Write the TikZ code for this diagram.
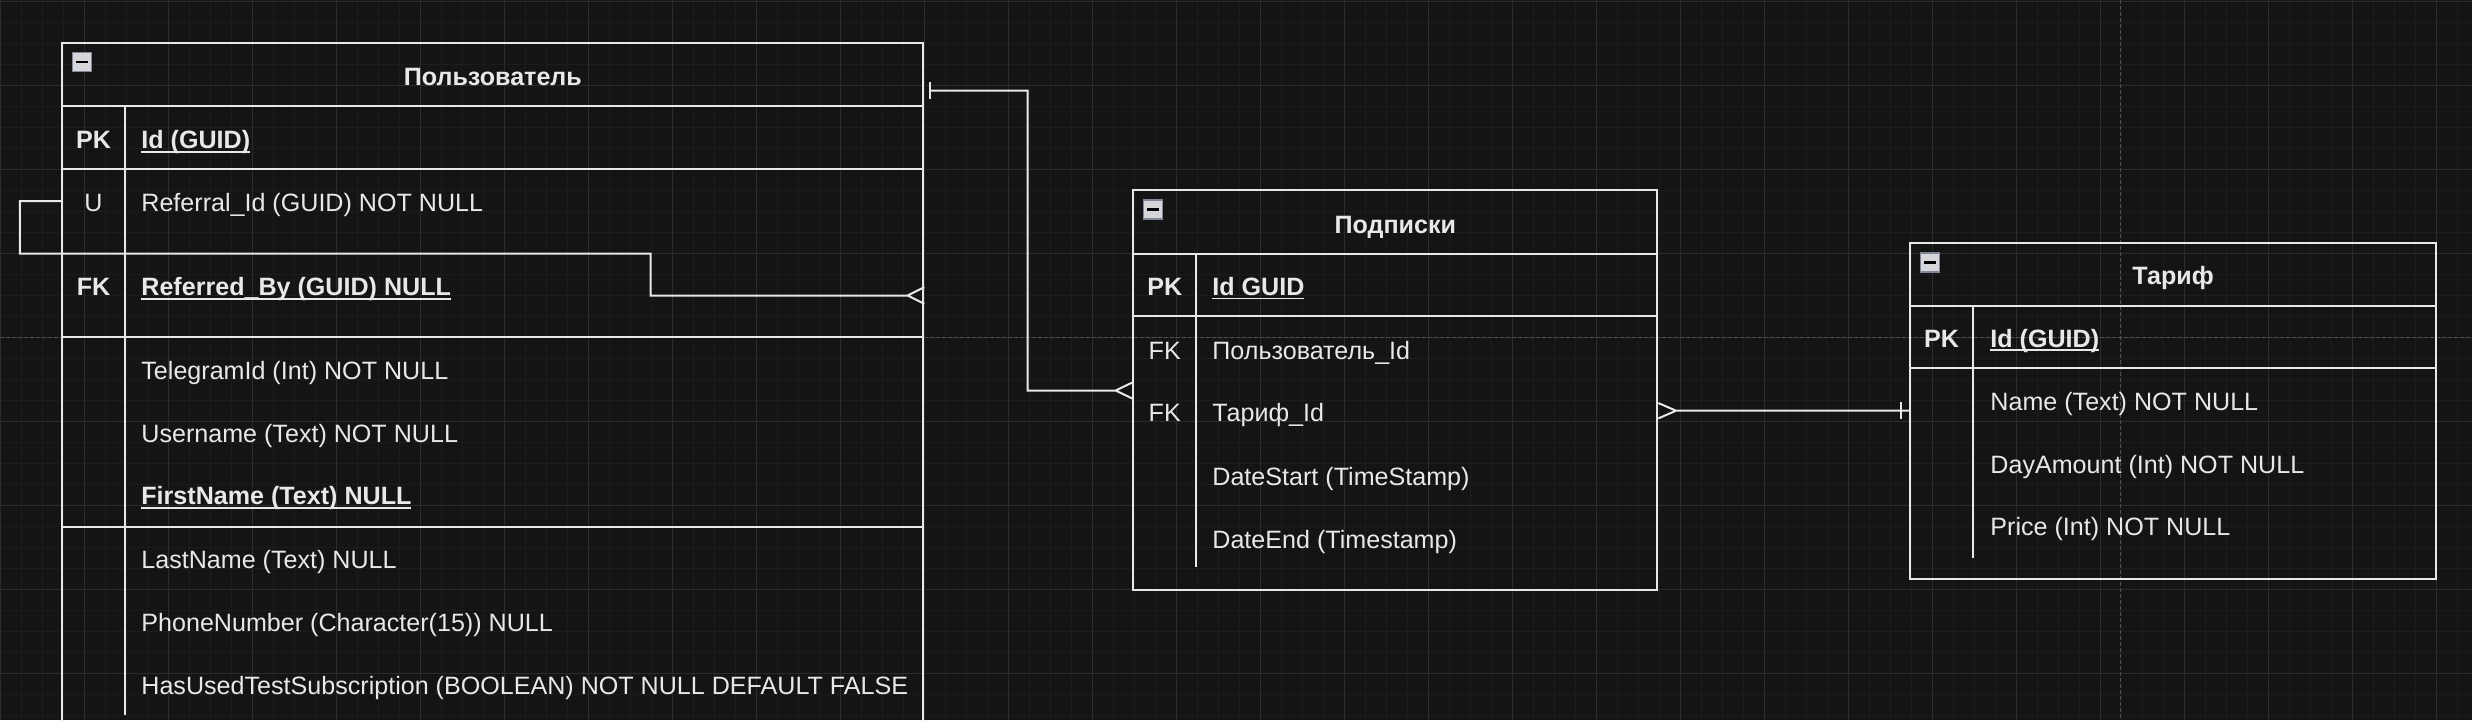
\documentclass[tikz,border=0pt]{standalone}
\usepackage{fontspec}
\setmainfont{Liberation Sans}
\usetikzlibrary{fit,calc}

\definecolor{canvas}{RGB}{20,20,20}
\definecolor{gridmajor}{RGB}{44,44,44}
\definecolor{gridminor}{RGB}{28,28,28}
\definecolor{ink}{RGB}{232,232,232}
\definecolor{pagebreak}{RGB}{78,78,78}
\definecolor{btnfill}{RGB}{214,214,218}
\definecolor{btnedge}{RGB}{125,135,150}

% underlined key field
\newcommand{\pkline}[1]{\setbox0\hbox{#1}\rlap{\rule[-1.9pt]{\wd0}{0.7pt}}\box0}

\tikzset{
  tablebox/.style={draw=ink, line width=1pt, inner sep=0pt},
  sepline/.style={draw=ink, line width=1pt},
  conn/.style={draw=ink, line width=1pt},
  tabtitle/.style={text=ink, font=\bfseries\fontsize{12.55}{15}\selectfont,
    inner sep=0pt, text height=9pt, text depth=0pt},
  field/.style={text=ink, font=\fontsize{12.55}{15}\selectfont, anchor=west,
    inner sep=0pt, text height=9pt, text depth=0pt},
  pkfield/.style={field, font=\bfseries\fontsize{12.55}{15}\selectfont},
  keycell/.style={field, anchor=center},
  pkcell/.style={pkfield, anchor=center},
  minbtn/.style={draw=btnedge, fill=btnfill, line width=0.6pt,
    minimum size=9.5pt, inner sep=0pt},
}

\begin{document}
\begin{tikzpicture}[x=0.5pt, y=-0.5pt]
  \useasboundingbox (0,0) rectangle (2472,720);
  \clip (0,0) rectangle (2472,720);

  % background and grid
  \fill[canvas] (0,0) rectangle (2472,720);
  \foreach \gx in {0,21,...,2480} \draw[gridminor, line width=0.5pt] (\gx,0) -- (\gx,720);
  \foreach \gy in {1.7,22.7,...,722} \draw[gridminor, line width=0.5pt] (0,\gy) -- (2472,\gy);
  \foreach \gx in {0,84,...,2480} \draw[gridmajor, line width=0.5pt] (\gx,0) -- (\gx,720);
  \foreach \gy in {1.7,85.7,...,722} \draw[gridmajor, line width=0.5pt] (0,\gy) -- (2472,\gy);
  \draw[pagebreak, line width=0.5pt, dash pattern=on 2pt off 1pt] (0,337.7) -- (2472,337.7);
  \draw[pagebreak, line width=0.5pt, dash pattern=on 2pt off 1pt] (2120.5,0) -- (2120.5,720);

  % table Пользователь
  \node[tablebox, fit={(62.3,43.3) (923.3,760)}] (user) {};
  \foreach \ry in {106,169.3,337.3,526.7}
    \draw[sepline] (user.west |- 0,\ry) -- (user.east |- 0,\ry);
  \draw[sepline] (124.7,106) -- (124.7,715);
  \node[minbtn] (user-min) at (81.7,62.2) {\textcolor{black}{\rule{6pt}{1.1pt}}};
  \node[tabtitle] (user-title) at (492.8,76.7) {Пользователь};
  \node[pkcell] (user-pk) at (93.5,139.7) {PK};
  \node[pkfield] (user-id) at (141,139.7) {\pkline{Id (GUID)}};
  \node[keycell] (user-u) at (93.5,202.3) {U};
  \node[field] (user-ref) at (141,202.3) {Referral\_Id (GUID) NOT NULL};
  \node[pkcell] (user-fk) at (93.5,286.7) {FK};
  \node[pkfield] (user-refby) at (141,286.7) {\pkline{Referred\_By (GUID) NULL}};
  \node[field] (user-tg) at (141,370.5) {TelegramId (Int) NOT NULL};
  \node[field] (user-login) at (141,433) {Username (Text) NOT NULL};
  \node[pkfield] (user-first) at (141,495.7) {\pkline{FirstName (Text) NULL}};
  \node[field] (user-last) at (141,559) {LastName (Text) NULL};
  \node[field] (user-phone) at (141,622.3) {PhoneNumber (Character(15)) NULL};
  \node[field] (user-trial) at (141,685) {HasUsedTestSubscription (BOOLEAN) NOT NULL DEFAULT FALSE};

  % table Подписки
  \node[tablebox, fit={(1133.3,190) (1657.3,590)}] (subs) {};
  \foreach \ry in {254,316.4}
    \draw[sepline] (subs.west |- 0,\ry) -- (subs.east |- 0,\ry);
  \draw[sepline] (1196,254) -- (1196,567);
  \node[minbtn] (subs-min) at (1153,209.5) {\textcolor{black}{\rule{6pt}{1.1pt}}};
  \node[tabtitle] (subs-title) at (1395.3,224) {Подписки};
  \node[pkcell] (subs-pk) at (1164.7,286.5) {PK};
  \node[pkfield] (subs-id) at (1212,286.5) {\pkline{Id GUID}};
  \node[keycell] (subs-fk1) at (1164.7,350) {FK};
  \node[field] (subs-user) at (1212,350) {Пользователь\_Id};
  \node[keycell] (subs-fk2) at (1164.7,412.6) {FK};
  \node[field] (subs-tariff) at (1212,412.6) {Тариф\_Id};
  \node[field] (subs-start) at (1212,476) {DateStart (TimeStamp)};
  \node[field] (subs-end) at (1212,539) {DateEnd (Timestamp)};

  % table Тариф
  \node[tablebox, fit={(1910,242.7) (2436,579)}] (tariff) {};
  \foreach \ry in {306,368.3}
    \draw[sepline] (tariff.west |- 0,\ry) -- (tariff.east |- 0,\ry);
  \draw[sepline] (1973,306) -- (1973,557.7);
  \node[minbtn] (tariff-min) at (1930,262.5) {\textcolor{black}{\rule{6pt}{1.1pt}}};
  \node[tabtitle] (tariff-title) at (2173,275.7) {Тариф};
  \node[pkcell] (tariff-pk) at (1941.5,338) {PK};
  \node[pkfield] (tariff-id) at (1990,338) {\pkline{Id (GUID)}};
  \node[field] (tariff-name) at (1990,401) {Name (Text) NOT NULL};
  \node[field] (tariff-days) at (1990,464) {DayAmount (Int) NOT NULL};
  \node[field] (tariff-price) at (1990,526) {Price (Int) NOT NULL};

  % self reference Referral_Id -> Referred_By
  \coordinate (refby-foot) at ($(user.east |- 0,295.5)+(-16.7,0)$);
  \draw[conn] (user.west |- 0,201) -| (19.8,253.5) -| (650.5,295.5) -- (refby-foot)
    -- ++(16.7,8.3) (refby-foot) -- ++(16.7,-8.3);

  % Пользователь -> Подписки
  \coordinate (subs-one) at ($(user.east |- 0,90.5)+(6,0)$);
  \coordinate (subs-foot) at ($(subs.west |- 0,390.5)+(-16.7,0)$);
  \draw[conn] (subs-one) -| (1027.5,390.5) -- (subs-foot)
    -- ++(16.7,-8) (subs-foot) -- ++(16.7,8);
  \draw[conn] (subs-one) ++(0,-8.5) -- ++(0,17);

  % Подписки -> Тариф
  \coordinate (tariff-foot) at ($(subs.east |- 0,410.7)+(17.7,0)$);
  \draw[conn] (tariff-foot) -- (tariff.west |- 0,410.7)
    (tariff-foot) -- ++(-17.7,-7.7) (tariff-foot) -- ++(-17.7,7.7);
  \draw[conn] ($(tariff.west |- 0,410.7)+(-8.3,-8.7)$) -- ++(0,17.4);
\end{tikzpicture}
\end{document}
